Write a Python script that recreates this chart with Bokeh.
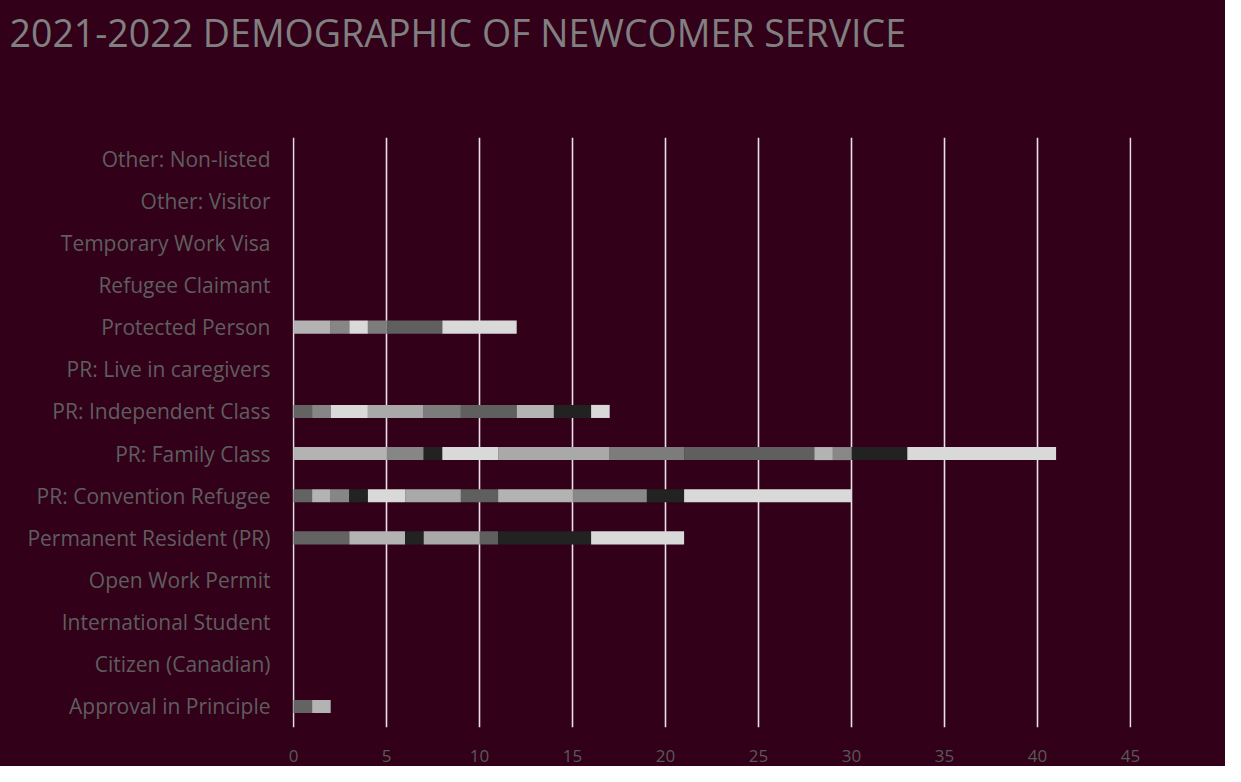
from bokeh.plotting import figure
from bokeh.models import FactorRange, Range1d, SingleIntervalTicker, ColumnDataSource, Title
from bokeh.embed import file_html
from bokeh.resources import INLINE

categories = [
    "Approval in Principle",
    "Citizen (Canadian)",
    "International Student",
    "Open Work Permit",
    "Permanent Resident (PR)",
    "PR: Convention Refugee",
    "PR: Family Class",
    "PR: Independent Class",
    "PR: Live in caregivers",
    "Protected Person",
    "Refugee Claimant",
    "Temporary Work Visa",
    "Other: Visitor",
    "Other: Non-listed",
]

# one value per category (same order as categories), one list per series
s01 = [1, 0, 0, 0, 3, 1, 0, 1, 0, 0, 0, 0, 0, 0]
s02 = [1, 0, 0, 0, 3, 1, 5, 0, 0, 2, 0, 0, 0, 0]
s03 = [0, 0, 0, 0, 0, 1, 2, 1, 0, 1, 0, 0, 0, 0]
s04 = [0, 0, 0, 0, 1, 1, 1, 0, 0, 0, 0, 0, 0, 0]
s05 = [0, 0, 0, 0, 0, 2, 3, 2, 0, 1, 0, 0, 0, 0]
s06 = [0, 0, 0, 0, 3, 3, 6, 3, 0, 0, 0, 0, 0, 0]
s07 = [0, 0, 0, 0, 0, 0, 4, 2, 0, 1, 0, 0, 0, 0]
s08 = [0, 0, 0, 0, 1, 2, 7, 3, 0, 3, 0, 0, 0, 0]
s09 = [0, 0, 0, 0, 0, 4, 1, 2, 0, 0, 0, 0, 0, 0]
s10 = [0, 0, 0, 0, 0, 4, 1, 0, 0, 0, 0, 0, 0, 0]
s11 = [0, 0, 0, 0, 5, 2, 3, 2, 0, 0, 0, 0, 0, 0]
s12 = [0, 0, 0, 0, 5, 9, 8, 1, 0, 4, 0, 0, 0, 0]

series_names = ["s01", "s02", "s03", "s04", "s05", "s06",
                "s07", "s08", "s09", "s10", "s11", "s12"]
series_values = [s01, s02, s03, s04, s05, s06, s07, s08, s09, s10, s11, s12]
series_colors = ["#636363", "#b3b3b3", "#868686", "#222222", "#d9d9d9", "#a9a9a9",
                 "#7c7c7c", "#5f5f5f", "#b3b3b3", "#888888", "#222222", "#d9d9d9"]

title_text = "2021-2022 DEMOGRAPHIC OF NEWCOMER SERVICE"
x_ticks_interval = 5
x_max = 45

data = {"cat": categories}
for n, v in zip(series_names, series_values):
    data[n] = v
source = ColumnDataSource(data)

BG = "#33001a"
W, H = 1225, 766
pad = 0.054  # tiny range padding so the 0 and 45 gridlines are drawn

p = figure(
    width=W, height=H,
    y_range=FactorRange(factors=categories),
    x_range=Range1d(-pad, x_max + pad),
    output_backend="svg", toolbar_location=None,
    background_fill_color=BG, border_fill_color=BG,
    min_border_left=292, min_border_right=W - 1131,
    min_border_top=137, min_border_bottom=H - 727,
    title=None,
)
p.outline_line_color = None
p.styles = {"background-color": BG}

# spacer between the frame and the title (closest to the frame)
p.add_layout(Title(text=" ", text_font_size="10px", standoff=67), "above")
p.add_layout(Title(text=title_text, align="left", offset=-283, standoff=0,
                   text_font="Open Sans", text_font_size="37.5px",
                   text_font_style="normal", text_color="#808080"), "above")

p.hbar_stack(series_names, y="cat", height=0.31, color=series_colors,
             line_width=0, source=source)

p.xaxis.ticker = SingleIntervalTicker(interval=x_ticks_interval)
p.xaxis.axis_line_color = None
p.xaxis.major_tick_line_color = None
p.xaxis.minor_tick_line_color = None
p.xaxis.major_label_text_font = "Open Sans"
p.xaxis.major_label_text_font_size = "17px"
p.xaxis.major_label_text_color = "#595959"
p.xaxis.major_label_standoff = 16

p.yaxis.axis_line_color = None
p.yaxis.major_tick_line_color = None
p.yaxis.minor_tick_line_color = None
p.yaxis.major_label_text_font = "Open Sans"
p.yaxis.major_label_text_font_size = "21px"
p.yaxis.major_label_text_color = "#5e5e5e"
p.yaxis.major_label_standoff = 16

p.ygrid.grid_line_color = None
p.xgrid.grid_line_color = "#e8e0e4"
p.xgrid.grid_line_width = 1.6

open("out.html", "w").write(file_html(p, INLINE))
